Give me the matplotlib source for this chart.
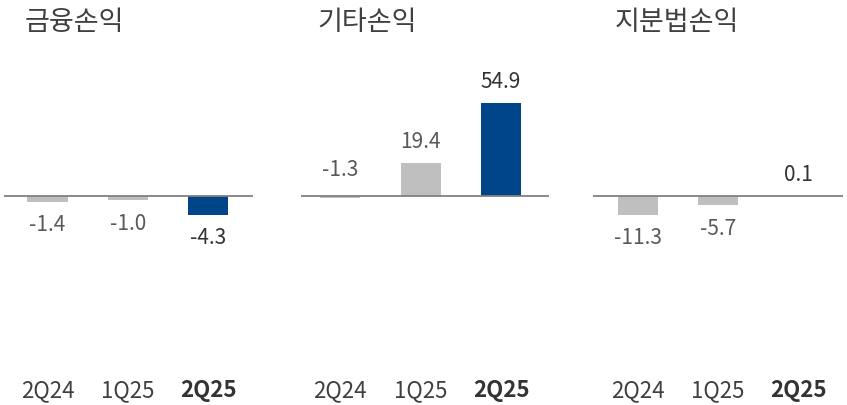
import matplotlib
matplotlib.use("Agg")
import matplotlib.pyplot as plt

plt.rcParams['font.family'] = ['Noto Sans CJK KR', 'DejaVu Sans']

titles = ['금융손익', '기타손익', '지분법손익']
categories = ['2Q24', '1Q25', '2Q25']
values_fin = [-1.4, -1.0, -4.3]
values_other = [-1.3, 19.4, 54.9]
values_equity = [-11.3, -5.7, 0.1]
label_text_fin = ['-1.4', '-1.0', '-4.3']
label_text_other = ['-1.3', '19.4', '54.9']
label_text_equity = ['-11.3', '-5.7', '0.1']

panels = [
    (titles[0], values_fin, label_text_fin),
    (titles[1], values_other, label_text_other),
    (titles[2], values_equity, label_text_equity),
]

W, H = 847, 405
fig = plt.figure(figsize=(W / 100, H / 100), dpi=100)

GRAY = '#BFBFBF'
BLUE = '#00448A'
LABEL_GRAY = '#595959'
DARK = '#333333'

# pixel layout: (left, right, first center, spacing, px per unit)
layout = [
    (4, 253, 47.5, 80.25, 4.4),
    (301, 549, 340, 80.5, 1.69),
    (593, 843, 638, 80.0, 1.69),
]
top_px, bot_px, base_px = 50, 370, 195.7

for i, ((title, vals, texts), (lp, rp, c0, sp, ppu)) in enumerate(zip(panels, layout)):
    ax = fig.add_axes([lp / W, 1 - bot_px / H, (rp - lp) / W, (bot_px - top_px) / H])
    ax.set_xlim((lp - c0) / sp, (rp - c0) / sp)
    ax.set_ylim(-(bot_px - base_px) / ppu, (base_px - top_px) / ppu)
    x = list(range(len(categories)))
    colors = [GRAY, GRAY, BLUE]
    ax.bar(x, vals, width=40 / sp, color=colors, zorder=2)
    ax.axhline(0, color='#808080', lw=1.3, zorder=3)
    for s in ax.spines.values():
        s.set_visible(False)
    ax.set_yticks([])
    ax.set_xticks(x)
    ax.set_xticklabels(categories)
    ax.tick_params(axis='x', length=0, pad=6.5, labelsize=16, labelcolor='#404040')
    for j, t in enumerate(ax.get_xticklabels()):
        if j == 2:
            t.set_fontweight('bold')
            t.set_color(DARK)
    for j, (v, s) in enumerate(zip(vals, texts)):
        bold = j == 2
        above = v >= 0 or i == 1
        kw = dict(ha='center', fontsize=15,
                  color=DARK if bold else LABEL_GRAY,
                  fontweight='normal')
        if above:
            off = 10.5 if v >= 0 else 14.5
            ax.annotate(s, (j, max(v, 0)), xytext=(0, off), textcoords='offset points',
                        va='baseline', **kw)
        else:
            ax.annotate(s, (j, v), xytext=(0, -9), textcoords='offset points',
                        va='top', **kw)
    fig.text((c0 - 23) / W, 1 - 23 / H, title, ha='left', va='center',
             fontsize=19.5, color='#404040')

fig.savefig('out.png', dpi=100)
